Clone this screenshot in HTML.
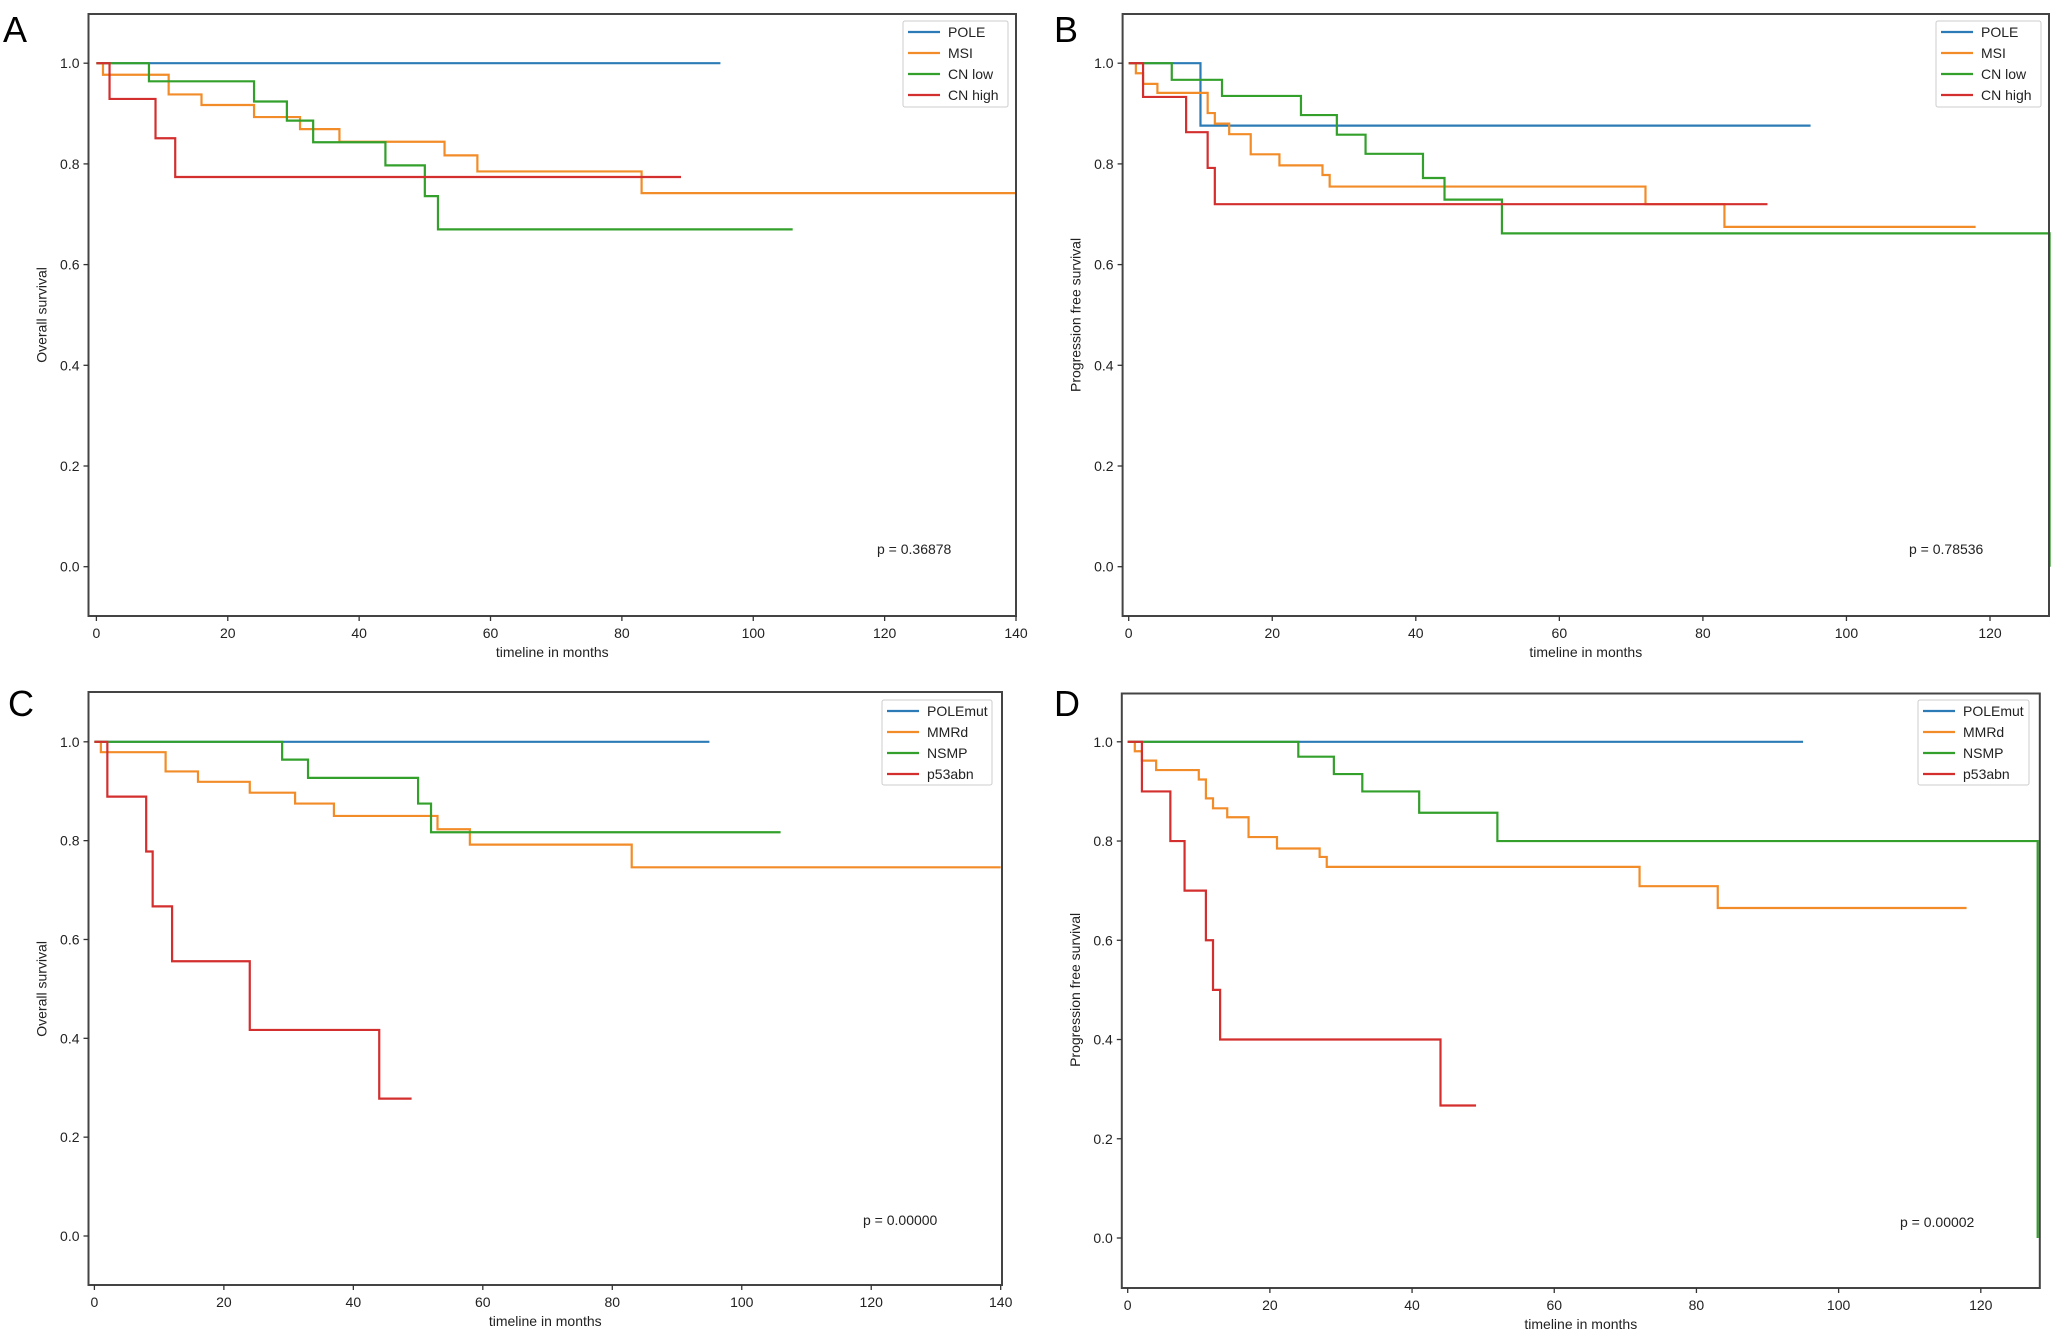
<!DOCTYPE html>
<html><head><meta charset="utf-8">
<style>
html,body{margin:0;padding:0;background:#fff;}
svg{display:block;font-family:"Liberation Sans","DejaVu Sans",sans-serif;}
</style></head>
<body>
<svg id="fig" width="2056" height="1341" viewBox="0 0 2056 1341" xmlns="http://www.w3.org/2000/svg"></svg>
<script>
// ---- data ----
const xTicks = [0,20,40,60,80,100,120,140];
const yTicks = [0.0,0.2,0.4,0.6,0.8,1.0];
const namesAB = ["POLE","MSI","CN low","CN high"];
const namesCD = ["POLEmut","MMRd","NSMP","p53abn"];
const colors = ["#2c7bb6","#f28c28","#33a02c","#d32f2f"];
const pValues = ["p = 0.36878","p = 0.78536","p = 0.00000","p = 0.00002"];

// Panel A (overall survival)
const A_t0=[0], A_s0=[1.0], A_e0=95;
const A_t1=[0,1,11,16,24,31,37,53,58,83], A_s1=[1.0,0.977,0.938,0.917,0.893,0.869,0.844,0.817,0.785,0.742], A_e1=140;
const A_t2=[0,8,24,29,33,44,50,52], A_s2=[1.0,0.964,0.924,0.886,0.843,0.797,0.736,0.67], A_e2=106;
const A_t3=[0,2,9,12], A_s3=[1.0,0.929,0.851,0.774], A_e3=89;
// Panel B (progression free survival)
const B_t0=[0,10], B_s0=[1.0,0.876], B_e0=95;
const B_t1=[0,1,2,4,11,12,14,17,21,27,28,72,83], B_s1=[1.0,0.98,0.959,0.941,0.901,0.88,0.859,0.819,0.797,0.778,0.755,0.72,0.675], B_e1=118;
const B_t2=[0,6,13,24,29,33,41,44,52,128.3], B_s2=[1.0,0.967,0.935,0.897,0.858,0.82,0.772,0.729,0.662,0.0], B_e2=128.3;
const B_t3=[0,2,8,11,12], B_s3=[1.0,0.933,0.863,0.792,0.72], B_e3=89;
// Panel C
const C_t0=[0], C_s0=[1.0], C_e0=95;
const C_t1=[0,1,11,16,24,31,37,53,58,83], C_s1=[1.0,0.979,0.94,0.919,0.897,0.875,0.85,0.823,0.792,0.746], C_e1=140;
const C_t2=[0,29,33,50,52], C_s2=[1.0,0.964,0.927,0.875,0.817], C_e2=106;
const C_t3=[0,2,8,9,12,24,44], C_s3=[1.0,0.889,0.778,0.667,0.556,0.417,0.278], C_e3=49;
// Panel D
const D_t0=[0], D_s0=[1.0], D_e0=95;
const D_t1=[0,1,2,4,10,11,12,14,17,21,27,28,72,83], D_s1=[1.0,0.981,0.962,0.943,0.924,0.886,0.866,0.848,0.808,0.785,0.768,0.748,0.709,0.665], D_e1=118;
const D_t2=[0,24,29,33,41,52,128], D_s2=[1.0,0.97,0.935,0.9,0.857,0.8,0.0], D_e2=128;
const D_t3=[0,2,6,8,11,12,13,44], D_s3=[1.0,0.9,0.8,0.7,0.6,0.5,0.4,0.267], D_e3=49;

// ---- layout ----
const panels = [
 {id:"a",letter:"A",ylabel:"Overall survival",names:namesAB,p:pValues[0],
  box:[88.5,14,1016,616],x0:96.4,xs:(1016-96.4)/140,xmax:140,y1:63.2,y0:566.7,
  series:[[A_t0,A_s0,A_e0],[A_t1,A_s1,A_e1],[A_t2,A_s2,A_e2],[A_t3,A_s3,A_e3]],
  letterPos:[3,42],legend:[903,21,105,86],pPos:[877,554]},
 {id:"b",letter:"B",ylabel:"Progression free survival",names:namesAB,p:pValues[1],
  box:[1122.6,14,2049,616],x0:1128.7,xs:(1990-1128.7)/120,xmax:128,y1:63.2,y0:566.7,
  series:[[B_t0,B_s0,B_e0],[B_t1,B_s1,B_e1],[B_t2,B_s2,B_e2],[B_t3,B_s3,B_e3]],
  letterPos:[1054,42],legend:[1936,21,105,86],pPos:[1909,554]},
 {id:"c",letter:"C",ylabel:"Overall survival",names:namesCD,p:pValues[2],
  box:[88.5,692,1002,1285],x0:94.4,xs:(1000.7-94.4)/140,xmax:140,y1:741.8,y0:1236,
  series:[[C_t0,C_s0,C_e0],[C_t1,C_s1,C_e1],[C_t2,C_s2,C_e2],[C_t3,C_s3,C_e3]],
  letterPos:[8,716],legend:[882,700,110,85],pPos:[863,1225]},
 {id:"d",letter:"D",ylabel:"Progression free survival",names:namesCD,p:pValues[3],
  box:[1121.8,693.5,2039.8,1288],x0:1127.7,xs:(1980.8-1127.7)/120,xmax:128,y1:741.8,y0:1238,
  series:[[D_t0,D_s0,D_e0],[D_t1,D_s1,D_e1],[D_t2,D_s2,D_e2],[D_t3,D_s3,D_e3]],
  letterPos:[1054,716],legend:[1918,700,111,85],pPos:[1900,1227]}
];

const NS="http://www.w3.org/2000/svg";
const svg=document.getElementById("fig");
function mk(tag,attrs,parent){const e=document.createElementNS(NS,tag);for(const k in attrs)e.setAttribute(k,attrs[k]);(parent||svg).appendChild(e);return e;}

panels.forEach(P=>{
  const g=mk("g",{});
  
  
  const X=t=>P.x0+t*P.xs;
  const Y=v=>P.y0-(P.y0-P.y1)*v;
  const [L,T,R,B]=P.box;
  P.series.forEach((s,i)=>{
    const [ts,vs,end]=s;
    let d="M"+X(ts[0])+","+Y(vs[0]);
    for(let k=1;k<ts.length;k++){d+=" H"+X(ts[k])+" V"+Y(vs[k]);}
    d+=" H"+X(end);
    const path=mk("path",{d:d,fill:"none",stroke:colors[i],"stroke-width":2.2},g);
    
    
  });
  const fr=mk("rect",{x:L,y:T,width:R-L,height:B-T,fill:"none",stroke:"#444","stroke-width":2},g);
  
  
  xTicks.forEach(v=>{
    if(v>P.xmax) return;
    mk("line",{x1:X(v),x2:X(v),y1:B,y2:B+5,stroke:"#333","stroke-width":1.3},g);
    const t=mk("text",{x:X(v),y:B+22,"text-anchor":"middle","font-size":14,fill:"#222"},g);
    t.textContent=v;
    
    
  });
  yTicks.forEach(v=>{
    mk("line",{x1:L-5,x2:L,y1:Y(v),y2:Y(v),stroke:"#333","stroke-width":1.3},g);
    const t=mk("text",{x:L-9,y:Y(v)+5,"text-anchor":"end","font-size":14,fill:"#222"},g);
    t.textContent=v.toFixed(1);
    
    
  });
  const xl=mk("text",{x:(L+R)/2,y:B+41,"text-anchor":"middle","font-size":14,fill:"#222"},g);
  xl.textContent="timeline in months";
  
  
  const yx=L-42, yy=(Y(0)+Y(1))/2;
  const yl=mk("text",{x:yx,y:yy,"text-anchor":"middle","font-size":14,fill:"#222",transform:"rotate(-90 "+yx+" "+yy+")"},g);
  yl.textContent=P.ylabel;
  
  
  const lt=mk("text",{x:P.letterPos[0],y:P.letterPos[1],"font-size":36,fill:"#000"},g);
  lt.textContent=P.letter;
  
  
  const pv=mk("text",{x:P.pPos[0],y:P.pPos[1],"font-size":14,fill:"#222"},g);
  pv.textContent=P.p;
  
  
  const [lx,ly,lw,lh]=P.legend;
  const lg=mk("g",{},g);
  
  
  mk("rect",{x:lx,y:ly,width:lw,height:lh,fill:"#fff",stroke:"#ccc","stroke-width":1,rx:2},lg);
  P.names.forEach((n,i)=>{
    const yy2=ly+11+i*21;
    const e=mk("g",{},lg);
    
    
    mk("line",{x1:lx+5,x2:lx+37,y1:yy2,y2:yy2,stroke:colors[i],"stroke-width":2.2},e);
    const t=mk("text",{x:lx+45,y:yy2+5,"font-size":14,fill:"#222"},e);
    t.textContent=n;
  });
});
</script>
</body></html>
